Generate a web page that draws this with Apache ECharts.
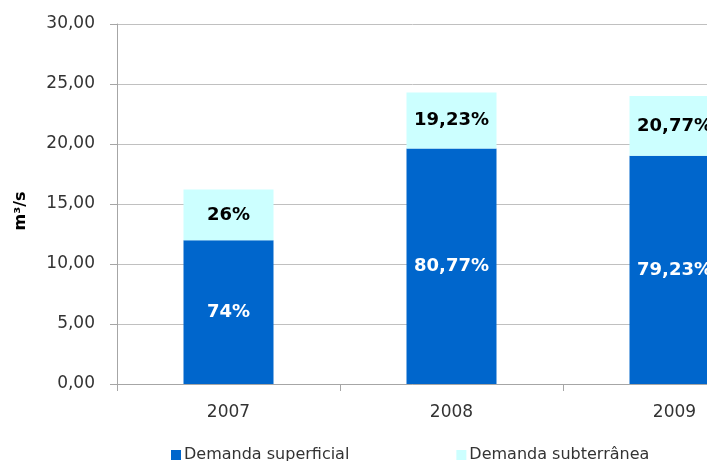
<!DOCTYPE html>
<html>
<head>
<meta charset="utf-8">
<script src="https://cdn.jsdelivr.net/npm/echarts@6/dist/echarts.min.js"></script>
<style>
  html, body { margin: 0; padding: 0; background: #fff; }
  #chart { width: 707px; height: 461px; }
</style>
</head>
<body>
<div id="chart"></div>
<script>
// Water demand per year (m³/s), split by source
const years = ['2007', '2008', '2009'];
const totalDemand = [16.2, 24.3, 24.0];
const sharePercentSuperficial = [74, 80.77, 79.23];
const sharePercentSubterranea = [26, 19.23, 20.77];
const yTicks = { min: 0, max: 30, interval: 5 };

const fmtComma = (v, d) => v.toFixed(d).replace('.', ',');
const fmtPct = v => (Number.isInteger(v) ? String(v) : fmtComma(v, 2)) + '%';

const superficial = totalDemand.map((t, i) => t * sharePercentSuperficial[i] / 100);
const subterranea = totalDemand.map((t, i) => t * sharePercentSubterranea[i] / 100);

const chart = echarts.init(document.getElementById('chart'));
const font = 'DejaVu Sans, sans-serif';

chart.setOption({
  animation: false,
  textStyle: { fontFamily: font },
  grid: { left: 117, top: 24, width: 669, height: 360, containLabel: false, outerBoundsMode: 'none' },
  xAxis: {
    type: 'category',
    data: years,
    boundaryGap: true,
    axisLine: { lineStyle: { color: '#a6a6a6', width: 1 } },
    axisTick: { show: true, length: 7, lineStyle: { color: '#a6a6a6' } },
    axisLabel: { color: '#333', fontSize: 17, margin: 20, fontFamily: font }
  },
  yAxis: {
    type: 'value',
    min: yTicks.min, max: yTicks.max, interval: yTicks.interval,
    name: 'm³/s',
    nameLocation: 'middle',
    nameGap: 88,
    nameRotate: 90,
    nameTextStyle: { color: '#000', fontSize: 16, fontWeight: 'bold', fontFamily: font, padding: [0, 14, 0, 0] },
    axisLine: { show: true, lineStyle: { color: '#a6a6a6', width: 1 } },
    axisTick: { show: true, length: 7, lineStyle: { color: '#a6a6a6' } },
    axisLabel: { color: '#333', fontSize: 17, margin: 22, fontFamily: font,
      formatter: v => fmtComma(v, 2) },
    splitLine: { lineStyle: { color: '#c0c0c0', width: 1 } }
  },
  legend: {
    left: 166, top: 442,
    itemWidth: 10, itemHeight: 10, itemGap: 107,
    icon: 'rect',
    textStyle: { color: '#333', fontSize: 16, fontFamily: font, padding: [0, 0, 0, -2] },
    data: ['Demanda superficial', 'Demanda subterrânea']
  },
  series: [
    {
      name: 'Demanda superficial',
      type: 'bar', stack: 'd',
      barWidth: 90,
      data: superficial,
      itemStyle: { color: '#0066cc' },
      label: { show: true, position: 'inside', color: '#fff', fontSize: 18, fontWeight: 'bold',
        fontFamily: font, formatter: p => fmtPct(sharePercentSuperficial[p.dataIndex]) }
    },
    {
      name: 'Demanda subterrânea',
      type: 'bar', stack: 'd',
      barWidth: 90,
      data: subterranea,
      itemStyle: { color: '#ccffff' },
      label: { show: true, position: 'inside', color: '#000', fontSize: 18, fontWeight: 'bold',
        fontFamily: font, formatter: p => fmtPct(sharePercentSubterranea[p.dataIndex]) }
    }
  ]
});
</script>
</body>
</html>
